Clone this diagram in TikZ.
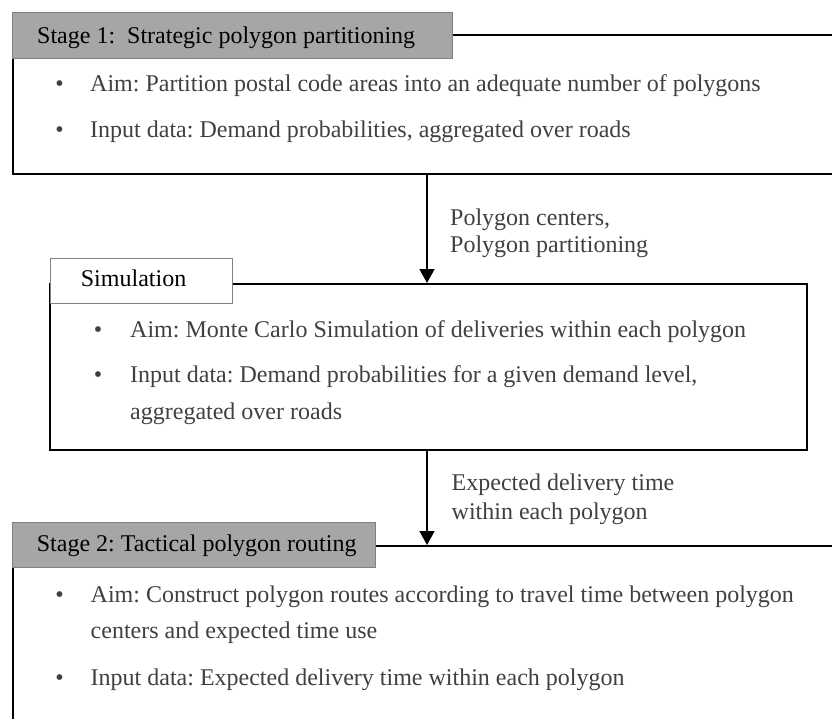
\documentclass[tikz,border=0pt]{standalone}
\usepackage{fontspec}
\setmainfont{Liberation Serif}
\usetikzlibrary{arrows.meta}
\definecolor{headfill}{HTML}{A6A6A6}
\definecolor{headedge}{HTML}{808080}
\definecolor{bodytext}{HTML}{404040}
\begin{document}
\frenchspacing
\begin{tikzpicture}[x=1bp,y=-1bp,
  frame/.style={draw=black, line width=1.6bp, inner sep=0pt, anchor=north west},
  header/.style={draw=headedge, line width=1bp, inner sep=0pt, anchor=north west, fill=headfill},
  simheader/.style={header, fill=white},
  txt/.style={anchor=base west, inner sep=0pt, text=bodytext, font=\fontsize{24bp}{28bp}\selectfont},
  headtxt/.style={txt, text=black},
  dot/.style={anchor=base, inner sep=0pt, text=bodytext, font=\fontsize{24bp}{28bp}\selectfont},
  flow/.style={line width=1.6bp, -{Triangle[width=15bp,length=14bp]}},
]
\useasboundingbox (0,0) rectangle (832,719);
\clip (0,0) rectangle (832,719);

% frames of the three stages
\node[frame, minimum width=900bp, minimum height=139bp] (s1) at (12,34) {};
\node[frame, minimum width=757bp, minimum height=166bp] (sim) at (49,283) {};
\node[frame, minimum width=900bp, minimum height=300bp] (s2) at (12,545) {};

% title tabs
\node[header, minimum width=440bp, minimum height=46bp] (s1h) at (12,12) {};
\node[simheader, minimum width=182bp, minimum height=45bp] (simh) at (49.5,257.5) {};
\node[header, minimum width=363bp, minimum height=45bp] (s2h) at (12,522) {};

\node[headtxt] (s1title) at (37,43.3) {Stage 1:\ \ Strategic polygon partitioning};
\node[headtxt] (simtitle) at (80.7,286) {Simulation};
\node[headtxt] (s2title) at (36.7,551.7) {Stage 2: Tactical polygon routing};

% stage 1 items
\node[dot] (b11) at (59.5,92) {•};
\node[txt] (t11) at (90,92) {Aim: Partition postal code areas into an adequate number of polygons};
\node[dot] (b12) at (59.5,138) {•};
\node[txt] (t12) at (90,138) {Input data: Demand probabilities, aggregated over roads};

% simulation items
\node[dot] (b21) at (98,337) {•};
\node[txt] (t21) at (130,337) {Aim: Monte Carlo Simulation of deliveries within each polygon};
\node[dot] (b22) at (98,382) {•};
\node[txt] (t22) at (130,382) {Input data: Demand probabilities for a given demand level,};
\node[txt] (t23) at (130,419) {aggregated over roads};

% stage 2 items
\node[dot] (b31) at (59.5,602) {•};
\node[txt] (t31) at (90.5,602) {Aim: Construct polygon routes according to travel time between polygon};
\node[txt] (t32) at (90.5,638) {centers and expected time use};
\node[dot] (b32) at (59.5,685) {•};
\node[txt] (t33) at (90.5,685) {Input data: Expected delivery time within each polygon};

% connectors
\coordinate (ax) at (427,0);
\draw[flow] (s1.south -| ax) -- (sim.north -| ax);
\draw[flow] (sim.south -| ax) -- (s2.north -| ax);

\node[txt] (lab1a) at (450,225) {Polygon centers,};
\node[txt] (lab1b) at (450,252) {Polygon partitioning};
\node[txt] (lab2a) at (451.5,490) {Expected delivery time};
\node[txt] (lab2b) at (451.5,519) {within each polygon};
\end{tikzpicture}
\end{document}
